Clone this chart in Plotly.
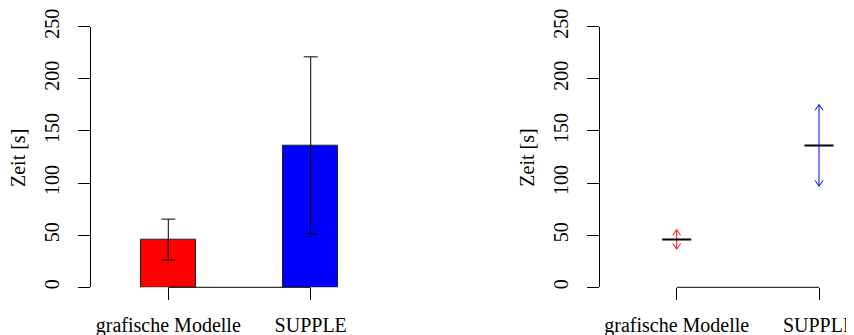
import plotly.graph_objects as go

categories = ["grafische Modelle", "SUPPLE"]
bar_colors = ["#FF0000", "#0000FF"]
means = [45.8, 136.1]
sd_err = [19.6, 85.0]          # left panel error bars (+/-)
ci_upper = [55.3, 175.3]       # right panel arrow ends
ci_lower = [36.6, 97.0]
y_ticks = [0, 50, 100, 150, 200, 250]

# page has an 8px body margin -> figure drawn 8px in from the top-left corner
OFF = 8
W, H = 854 - OFF, 335 - OFF
FONT = "Liberation Serif, Times New Roman, serif"
FS = 20

def px(v):   # page x -> figure paper x
    return (v - OFF) / W

def py(v):   # page y -> figure paper y
    return (H - (v - OFF)) / H

xpos = list(range(len(categories)))

fig = go.Figure()

# ---- left panel: bars with error bars
fig.add_trace(go.Bar(
    x=xpos, y=means, width=0.39, marker=dict(color=bar_colors, line=dict(color="#222", width=1)),
    error_y=dict(type="data", array=sd_err, color="black", thickness=1, width=7),
    cliponaxis=False,
    xaxis="x", yaxis="y", showlegend=False, hoverinfo="skip"))

# ---- right panel: mean lines + double-headed arrows
head_dx = 0.028
head_dy = 5.5
half = 0.102
for i, (m, lo, hi, c) in enumerate(zip(means, ci_lower, ci_upper, bar_colors)):
    fig.add_trace(go.Scatter(x=[i, i], y=[lo, hi], mode="lines", line=dict(color=c, width=1),
                             xaxis="x2", yaxis="y2", showlegend=False, hoverinfo="skip"))
    fig.add_trace(go.Scatter(x=[i - head_dx, i, i + head_dx], y=[hi - head_dy, hi, hi - head_dy],
                             mode="lines", line=dict(color=c, width=1),
                             xaxis="x2", yaxis="y2", showlegend=False, hoverinfo="skip"))
    fig.add_trace(go.Scatter(x=[i - head_dx, i, i + head_dx], y=[lo + head_dy, lo, lo + head_dy],
                             mode="lines", line=dict(color=c, width=1),
                             xaxis="x2", yaxis="y2", showlegend=False, hoverinfo="skip"))
    fig.add_trace(go.Scatter(x=[i - half, i + half], y=[m, m], mode="lines",
                             line=dict(color="black", width=2),
                             xaxis="x2", yaxis="y2", showlegend=False, hoverinfo="skip"))

ydom = [py(287.3), py(26.7)]

# x axis baselines between first and last category (drawn at the bottom of the plot area)
for xr in ("x", "x2"):
    fig.add_shape(type="line", xref=xr, yref="paper", x0=xpos[0], x1=xpos[-1],
                  y0=ydom[0], y1=ydom[0], line=dict(color="black", width=1), layer="above")

yax = dict(range=[0, 250], tickvals=y_ticks, ticks="outside", ticklen=12, tickcolor="black",
           tickwidth=1, showline=True, linecolor="black", linewidth=1, showgrid=False,
           zeroline=False, tickangle=-90, tickfont=dict(family=FONT, size=FS, color="black"),
           domain=ydom, fixedrange=True, automargin=False, ticklabelstandoff=11)
xax = dict(tickvals=xpos, ticktext=categories, ticks="outside", ticklen=12, tickcolor="black",
           tickwidth=1, showline=False, showgrid=False, zeroline=False,
           tickfont=dict(family=FONT, size=FS, color="black"), fixedrange=True,
           automargin=False, ticklabelstandoff=8, ticklabeloverflow="allow")

x1_0, x1_step = 168.3, 142.4
x2_0, x2_step = 676.7, 142.3

fig.update_layout(
    width=W, height=H, margin=dict(l=0, r=0, t=0, b=0, autoexpand=False),
    paper_bgcolor="white", plot_bgcolor="white",
    xaxis=dict(xax, domain=[px(91), px(411)], anchor="y",
               range=[(91 - x1_0) / x1_step, (411 - x1_0) / x1_step]),
    yaxis=dict(yax, anchor="x"),
    xaxis2=dict(xax, domain=[px(600), 1.0], anchor="y2",
                range=[(600 - x2_0) / x2_step, (854 - x2_0) / x2_step]),
    yaxis2=dict(yax, anchor="x2"),
    bargap=0,
    annotations=[
        dict(text="Zeit [s]", textangle=-90, x=px(18), y=py(158), xref="paper", yref="paper",
             showarrow=False, font=dict(family=FONT, size=FS, color="black"),
             xanchor="center", yanchor="middle"),
        dict(text="Zeit [s]", textangle=-90, x=px(526.7), y=py(158), xref="paper", yref="paper",
             showarrow=False, font=dict(family=FONT, size=FS, color="black"),
             xanchor="center", yanchor="middle"),
    ],
)

fig.write_html("out.html")
